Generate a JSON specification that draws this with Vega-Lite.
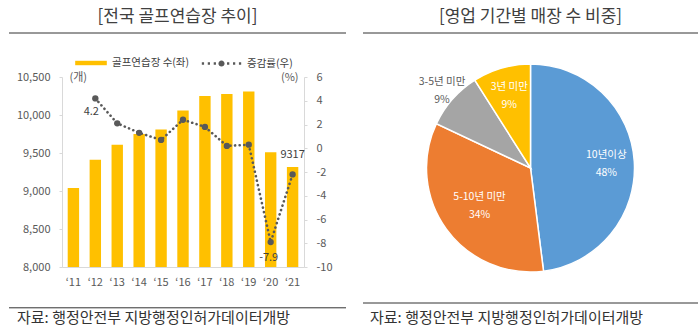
{
  "$schema": "https://vega.github.io/schema/vega-lite/v6.json",
  "padding": {"left": 8, "top": 0, "right": 0, "bottom": 0},
  "config": {
    "view": {"stroke": null},
    "font": "Noto Sans CJK KR",
    "locale": {"number": {"decimal": ".", "thousands": ",", "grouping": [3], "currency": ["", ""], "minus": "-"}},
    "axis": {"labelFont": "Noto Sans CJK KR", "titleFont": "Noto Sans CJK KR", "labelOverlap": false},
    "legend": {"labelFont": "Noto Sans CJK KR", "padding": 0}
  },
  "datasets": {
    "golf": [
      {"year": "‘11", "count": 9040, "rate": null},
      {"year": "‘12", "count": 9410, "rate": 4.2},
      {"year": "‘13", "count": 9610, "rate": 2.1},
      {"year": "‘14", "count": 9750, "rate": 1.3},
      {"year": "‘15", "count": 9810, "rate": 0.7},
      {"year": "‘16", "count": 10060, "rate": 2.4},
      {"year": "‘17", "count": 10250, "rate": 1.8},
      {"year": "‘18", "count": 10275, "rate": 0.2},
      {"year": "‘19", "count": 10310, "rate": 0.3},
      {"year": "‘20", "count": 9510, "rate": -7.9},
      {"year": "‘21", "count": 9317, "rate": -2.2}
    ],
    "share": [
      {"category": "10년이상", "share": 0.48, "rank": 1},
      {"category": "5-10년 미만", "share": 0.34, "rank": 2},
      {"category": "3-5년 미만", "share": 0.09, "rank": 3},
      {"category": "3년 미만", "share": 0.09, "rank": 4}
    ]
  },
  "spacing": 15,
  "hconcat": [
    {
      "spacing": 8,
      "vconcat": [
        {
          "width": 242, "height": 33,
          "data": {"values": [{"t": "[전국 골프연습장 추이]"}]},
          "layer": [
            {"mark": {"type": "text", "fontSize": 17, "color": "#404040"},
             "encoding": {"text": {"field": "t"},
               "x": {"datum": 0.5, "type": "quantitative", "scale": {"domain": [0, 1], "range": [-53, 284]}, "axis": null},
               "y": {"datum": 0.5, "type": "quantitative", "scale": {"domain": [0, 1]}, "axis": null}}},
            {"mark": {"type": "rule", "color": "#333333", "strokeWidth": 1},
             "encoding": {"x": {"datum": 0, "type": "quantitative", "axis": null}, "x2": {"datum": 1},
               "y": {"datum": 0, "type": "quantitative", "axis": null}}}
          ]
        },
        {
          "width": 242, "height": 190,
          "data": {"name": "golf"},
          "encoding": {
            "x": {"field": "year", "type": "ordinal", "sort": null,
              "scale": {"paddingInner": 0.48, "paddingOuter": 0.26},
              "axis": {"title": null, "ticks": false, "labelAngle": 0, "labelPadding": 9, "domainColor": "#D9D9D9", "labelColor": "#595959", "labelFontSize": 11, "labelOverlap": false}}
          },
          "layer": [
            {"layer": [
              {"mark": {"type": "bar", "color": "#FFC000", "clip": true},
               "encoding": {
                 "y": {"field": "count", "type": "quantitative", "scale": {"domain": [8000, 10500], "nice": false, "zero": false},
                   "axis": {"orient": "left", "title": "(개)", "titleAngle": 0, "titleX": 7, "titleY": 0, "titleAlign": "left", "titleBaseline": "middle", "titleFontWeight": "normal", "titleFontSize": 11, "titleColor": "#595959",
                     "values": [8000, 8500, 9000, 9500, 10000, 10500], "tickCount": 20, "format": ",d", "grid": false, "domainColor": "#D9D9D9", "tickColor": "#D9D9D9", "tickSize": 3, "labelPadding": 9, "labelColor": "#595959", "labelFontSize": 11, "labelOverlap": false, "minExtent": 53}},
                 "color": {"datum": "골프연습장 수(좌)", "scale": {"range": ["#FFC000"]},
                   "legend": {"orient": "none", "legendX": 12, "legendY": -31, "title": null, "symbolType": "M-1,-0.14H1V0.14H-1Z", "symbolSize": 1000, "labelFontSize": 10.5, "labelColor": "#404040", "labelOffset": 4}}
               }},
              {"transform": [{"filter": "datum.year == '‘21'"}],
               "mark": {"type": "text", "dy": -12, "fontSize": 11, "color": "#404040"},
               "encoding": {"y": {"field": "count", "type": "quantitative"}, "text": {"field": "count", "type": "quantitative", "format": "d"}}}
            ]},
            {"layer": [
              {"mark": {"type": "line", "color": "#595959", "strokeDash": [0.1, 4.5], "strokeWidth": 2.6, "strokeCap": "round"},
               "encoding": {"y": {"field": "rate", "type": "quantitative", "scale": {"domain": [-10, 6], "nice": false},
                 "axis": {"orient": "right", "title": "(%)", "titleAngle": 0, "titleX": -6, "titleY": 0, "titleAlign": "right", "titleBaseline": "middle", "titleFontWeight": "normal", "titleFontSize": 11, "titleColor": "#595959",
                   "values": [-10, -8, -6, -4, -2, 0, 2, 4, 6], "tickCount": 20, "format": "d", "grid": false, "domainColor": "#D9D9D9", "tickColor": "#D9D9D9", "tickSize": 3, "labelPadding": 9, "labelColor": "#595959", "labelFontSize": 11, "labelOverlap": false, "minExtent": 42}}}},
              {"mark": {"type": "point", "filled": true, "size": 40, "opacity": 1},
               "encoding": {"y": {"field": "rate", "type": "quantitative"},
                 "color": {"datum": "증감률(우)", "scale": {"range": ["#595959"]},
                   "legend": {"orient": "none", "legendX": 138, "legendY": -35, "title": null, "symbolOpacity": 1,
                     "symbolType": "M-0.96,-0.055h0.11v0.11h-0.11z M-0.67,-0.055h0.11v0.11h-0.11z M-0.38,-0.055h0.11v0.11h-0.11z M-0.15,0a0.15,0.15 0 1,0 0.3,0a0.15,0.15 0 1,0 -0.3,0z M0.27,-0.055h0.11v0.11h-0.11z M0.56,-0.055h0.11v0.11h-0.11z M0.85,-0.055h0.11v0.11h-0.11z",
                     "symbolSize": 1681, "labelFontSize": 10.5, "labelColor": "#404040", "labelOffset": 4}}}},
              {"transform": [{"filter": "datum.year == '‘12'"}],
               "mark": {"type": "text", "dx": -4, "dy": 14, "fontSize": 11, "color": "#404040"},
               "encoding": {"y": {"field": "rate", "type": "quantitative"}, "text": {"field": "rate", "type": "quantitative", "format": ".1f"}}},
              {"transform": [{"filter": "datum.year == '‘20'"}],
               "mark": {"type": "text", "dx": -2, "dy": 16, "fontSize": 11, "color": "#404040"},
               "encoding": {"y": {"field": "rate", "type": "quantitative"}, "text": {"field": "rate", "type": "quantitative", "format": ".1f"}}}
            ]}
          ],
          "resolve": {"scale": {"y": "independent", "color": "independent"}}
        },
        {
          "width": 242, "height": 40,
          "data": {"values": [{"src": "자료: 행정안전부 지방행정인허가데이터개방"}]},
          "layer": [
            {"mark": {"type": "text", "fontSize": 15, "align": "left", "dx": 8, "color": "#333333"},
             "encoding": {"text": {"field": "src"},
               "x": {"datum": 0, "type": "quantitative", "scale": {"domain": [0, 1], "range": [-53, 284]}, "axis": null},
               "y": {"datum": 0.43, "type": "quantitative", "scale": {"domain": [0, 1]}, "axis": null}}},
            {"mark": {"type": "rule", "color": "#333333", "strokeWidth": 1},
             "encoding": {"x": {"datum": 0, "type": "quantitative", "axis": null}, "x2": {"datum": 1},
               "y": {"datum": 0.68, "type": "quantitative", "axis": null}}}
          ]
        }
      ]
    },
    {
      "spacing": 31,
      "bounds": "flush",
      "vconcat": [
        {
          "width": 335, "height": 33,
          "data": {"values": [{"t": "[영업 기간별 매장 수 비중]"}]},
          "layer": [
            {"mark": {"type": "text", "fontSize": 17, "color": "#404040"},
             "encoding": {"text": {"field": "t"},
               "x": {"datum": 0.5, "type": "quantitative", "scale": {"domain": [0, 1]}, "axis": null},
               "y": {"datum": 0.5, "type": "quantitative", "scale": {"domain": [0, 1]}, "axis": null}}},
            {"mark": {"type": "rule", "color": "#333333", "strokeWidth": 1},
             "encoding": {"x": {"datum": 0, "type": "quantitative", "axis": null}, "x2": {"datum": 1},
               "y": {"datum": 0, "type": "quantitative", "axis": null}}}
          ]
        },
        {
          "width": 335, "height": 208,
          "data": {"name": "share"},
          "encoding": {
            "theta": {"field": "share", "type": "quantitative", "stack": true},
            "order": {"field": "rank", "type": "quantitative"}
          },
          "layer": [
            {"mark": {"type": "arc", "outerRadius": 104, "stroke": "white", "strokeWidth": 1.5},
             "encoding": {"color": {"field": "category", "type": "nominal",
               "scale": {"domain": ["10년이상", "5-10년 미만", "3-5년 미만", "3년 미만"], "range": ["#5B9BD5", "#ED7D31", "#A5A5A5", "#FFC000"]},
               "legend": null}}},
            {"mark": {"type": "text", "radius": 76, "dy": -8, "fontSize": 10.5, "color": "white"},
             "encoding": {"text": {"condition": {"test": "datum.category == '10년이상' || datum.category == '3년 미만'", "field": "category", "type": "nominal"}, "value": ""}}},
            {"mark": {"type": "text", "radius": 76, "dy": 10, "fontSize": 10.5, "color": "white"},
             "encoding": {"text": {"condition": {"test": "datum.category == '10년이상' || datum.category == '3년 미만'", "field": "share", "type": "quantitative", "format": ".0%"}, "value": ""}}},
            {"mark": {"type": "text", "radius": 63, "dy": -8, "fontSize": 10.5, "color": "white"},
             "encoding": {"text": {"condition": {"test": "datum.category == '5-10년 미만'", "field": "category", "type": "nominal"}, "value": ""}}},
            {"mark": {"type": "text", "radius": 63, "dy": 10, "fontSize": 10.5, "color": "white"},
             "encoding": {"text": {"condition": {"test": "datum.category == '5-10년 미만'", "field": "share", "type": "quantitative", "format": ".0%"}, "value": ""}}},
            {"mark": {"type": "text", "radius": 118, "dy": -8, "fontSize": 10.5, "color": "#595959"},
             "encoding": {"text": {"condition": {"test": "datum.category == '3-5년 미만'", "field": "category", "type": "nominal"}, "value": ""}}},
            {"mark": {"type": "text", "radius": 118, "dy": 10, "fontSize": 10.5, "color": "#595959"},
             "encoding": {"text": {"condition": {"test": "datum.category == '3-5년 미만'", "field": "share", "type": "quantitative", "format": ".0%"}, "value": ""}}}
          ]
        },
        {
          "width": 335, "height": 29,
          "data": {"values": [{"src": "자료: 행정안전부 지방행정인허가데이터개방"}]},
          "layer": [
            {"mark": {"type": "text", "fontSize": 15, "align": "left", "dx": 7, "color": "#333333"},
             "encoding": {"text": {"field": "src"},
               "x": {"datum": 0, "type": "quantitative", "scale": {"domain": [0, 1]}, "axis": null},
               "y": {"datum": 0.5, "type": "quantitative", "scale": {"domain": [0, 1]}, "axis": null}}},
            {"mark": {"type": "rule", "color": "#333333", "strokeWidth": 1},
             "encoding": {"x": {"datum": 0, "type": "quantitative", "axis": null}, "x2": {"datum": 1},
               "y": {"datum": 1, "type": "quantitative", "axis": null}}}
          ]
        }
      ]
    }
  ]
}
